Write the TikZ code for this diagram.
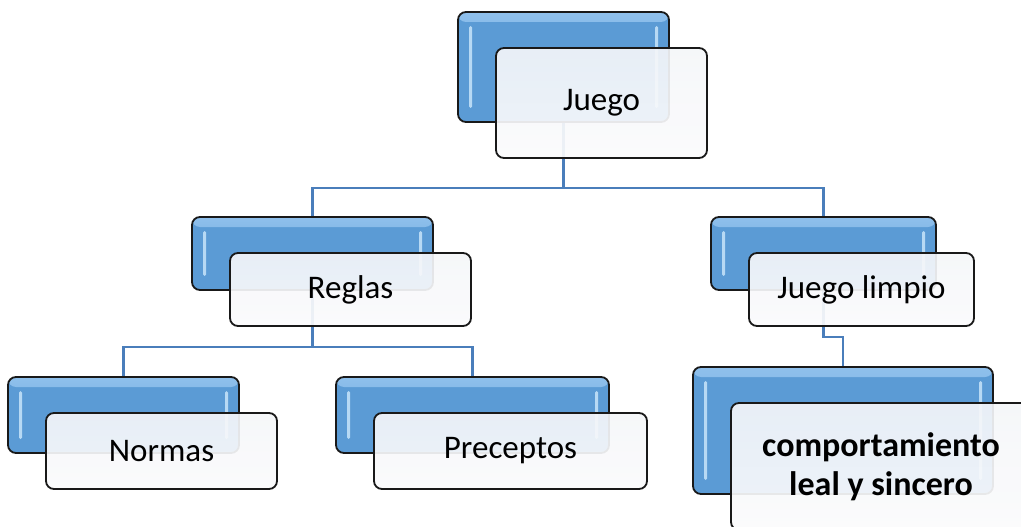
\documentclass[tikz,border=0pt]{standalone}
\usepackage{fontspec}
\setmainfont{Carlito}
\usetikzlibrary{calc}
\pgfdeclarelayer{background}
\pgfsetlayers{background,main}
\definecolor{boxblue}{HTML}{5B9BD5}
\definecolor{boxtop}{HTML}{8FC0EC}
\definecolor{gloss}{HTML}{D6EFFF}
\definecolor{linkblue}{HTML}{4A7EBB}
\definecolor{paneltop}{HTML}{F4F6F9}
\definecolor{panelbot}{HTML}{FBFBFC}
\begin{document}
\begin{tikzpicture}[x=1pt,y=-1pt,
  backbox/.style={draw=black!90, line width=1.8pt, rounded corners=8pt,
    fill=boxblue, inner sep=0pt, outer sep=0pt,
    path picture={
      \shade[top color=boxtop, bottom color=boxblue]
        (path picture bounding box.north west) rectangle
        ([yshift=-10pt]path picture bounding box.north east);
      \fill[gloss, opacity=0.75, rounded corners=1.5pt]
        ([shift={(11pt,-14pt)}]path picture bounding box.north west) rectangle
        ([shift={(14pt,14pt)}]path picture bounding box.south west);
      \fill[gloss, opacity=0.75, rounded corners=1.5pt]
        ([shift={(-14pt,-14pt)}]path picture bounding box.north east) rectangle
        ([shift={(-11pt,14pt)}]path picture bounding box.south east);
    }},
  frontbox/.style={draw=black!90, line width=1.8pt, rounded corners=8pt,
    top color=paneltop, bottom color=panelbot, fill opacity=0.92,
    text opacity=1, inner sep=0pt, outer sep=0pt, align=center,
    font=\fontsize{33}{39}\selectfont},
  link/.style={draw=linkblue, line width=2.8pt}
]
\useasboundingbox (0,0) rectangle (1021,527);

% back panels
\node[backbox, minimum width=211pt, minimum height=110pt] (juegoB)   at (563.5,67)  {};
\node[backbox, minimum width=241pt, minimum height=73pt]  (reglasB)  at (312.5,253.5) {};
\node[backbox, minimum width=225pt, minimum height=73pt]  (limpioB)  at (823.5,253.5) {};
\node[backbox, minimum width=231pt, minimum height=76pt]  (normasB)  at (123.5,415) {};
\node[backbox, minimum width=273pt, minimum height=76pt]  (precB)    at (472.5,415) {};
\node[backbox, minimum width=300pt, minimum height=127pt] (compB)    at (843,430.5) {};

% front panels with the labels
\node[frontbox, minimum width=211pt, minimum height=110pt] (juego)  at (601.5,103)   {Juego};
\node[frontbox, minimum width=241pt, minimum height=73pt]  (reglas) at (350.5,289.5) {Reglas};
\node[frontbox, minimum width=225pt, minimum height=73pt]  (limpio) at (861.5,289.5) {Juego limpio};
\node[frontbox, minimum width=231pt, minimum height=76pt]  (normas) at (161.5,451)   {Normas};
\node[frontbox, minimum width=273pt, minimum height=76pt]  (prec)   at (510.5,451)   {Preceptos};
\node[frontbox, minimum width=300pt, minimum height=127pt,
      font=\fontsize{34}{39}\selectfont\bfseries] (comp) at (881,466.5)
  {comportamiento\\leal y sincero};

% connectors, behind the panels
\begin{pgfonlayer}{background}
  \draw[link] (juegoB.south) -- ++(0,66) -| (reglasB.north);
  \draw[link] (juegoB.south) -- ++(0,66) -| (limpioB.north);
  \draw[link] (reglasB.south) -- ++(0,57) -| (normasB.north);
  \draw[link] (reglasB.south) -- ++(0,57) -| (precB.north);
  \draw[link] (limpioB.south) -- ++(0,47) -| (compB.north);
\end{pgfonlayer}
\end{tikzpicture}
\end{document}
